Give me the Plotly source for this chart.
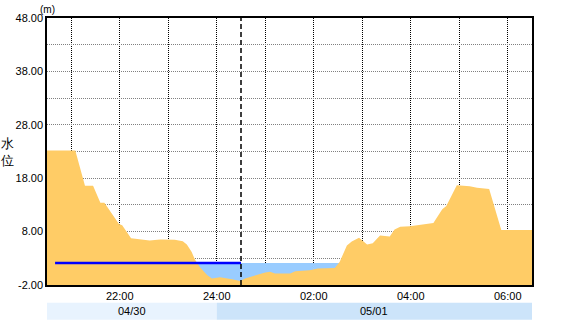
import plotly.graph_objects as go
from datetime import datetime

# ---- data ----
level_times = ["04/30 20:30", "04/30 21:05", "04/30 21:17", "04/30 21:27", "04/30 21:36",
               "04/30 21:41", "04/30 21:59", "04/30 22:03", "04/30 22:14", "04/30 22:37",
               "04/30 22:50", "04/30 23:08", "04/30 23:18", "04/30 23:23", "04/30 23:29",
               "04/30 23:33", "04/30 23:39", "04/30 23:48", "04/30 23:54", "05/01 00:04",
               "05/01 00:19", "05/01 00:29", "05/01 00:35", "05/01 00:53", "05/01 01:00",
               "05/01 01:06", "05/01 01:12", "05/01 01:31", "05/01 01:37", "05/01 01:55",
               "05/01 02:05", "05/01 02:26", "05/01 02:32", "05/01 02:41", "05/01 02:47",
               "05/01 02:56", "05/01 03:06", "05/01 03:13", "05/01 03:22", "05/01 03:34",
               "05/01 03:40", "05/01 03:47", "05/01 03:59", "05/01 04:28", "05/01 04:39",
               "05/01 04:44", "05/01 04:57", "05/01 05:13", "05/01 05:22", "05/01 05:37",
               "05/01 05:52", "05/01 06:30"]
level_values = [23.2, 23.2, 16.6, 16.6, 13.4,
                13.4, 9.4, 9.2, 6.76, 6.33,
                6.52, 6.46, 6.2, 5.6, 4.17,
                2.76, 1.39, -0.15, -0.76, -0.57,
                -0.94, -1.26, -0.76, 0.04, 0.35,
                0.46, 0.17, 0.17, 0.59, 0.78,
                1.09, 1.2, 2.31, 5.4, 6.15,
                6.83, 5.59, 5.83, 7.26, 7.07,
                8.37, 8.93, 8.98, 9.61, 12.2,
                12.8, 16.7, 16.5, 16.2, 16.0,
                8.31, 8.31]

ref_times = ["04/30 20:40", "05/01 00:30"]
ref_values = [2.1, 2.1]
band_times = ["04/30 20:30", "05/01 06:30"]
band_values = [2.1, 2.1]

now_time = "05/01 00:30"
x_range = ["04/30 20:30", "05/01 06:30"]
y_min, y_max = -2.0, 48.0
y_grid = [-2, 3, 8, 13, 18, 23, 28, 33, 38, 43, 48]
y_labels = ["-2.00", "", "8.00", "", "18.00", "", "28.00", "", "38.00", "", "48.00"]
x_ticks = ["04/30 21:00", "04/30 22:00", "04/30 23:00", "05/01 00:00", "05/01 01:00",
           "05/01 02:00", "05/01 03:00", "05/01 04:00", "05/01 05:00", "05/01 06:00"]
x_labels = ["", "22:00", "", "24:00", "", "02:00", "", "04:00", "", "06:00"]
days = ["04/30", "05/01"]
day_starts = ["04/30 20:30", "05/01 00:00"]
day_ends = ["05/01 00:00", "05/01 06:30"]
y_title = "水<br>位"
unit = "(m)"


def ts(s):
    return datetime.strptime("2024/" + s, "%Y/%m/%d %H:%M")


FONT = "Liberation Sans, Arial, sans-serif"
ORANGE = "#FFCC66"
LBLUE = "#99CCFF"

fig = go.Figure()

# light-blue band (behind)
bx = [ts(t) for t in band_times]
fig.add_trace(go.Scatter(x=bx, y=[y_min] * len(bx), mode="lines",
                         line=dict(width=0), showlegend=False, hoverinfo="skip"))
fig.add_trace(go.Scatter(x=bx, y=band_values, mode="lines", fill="tonexty",
                         fillcolor=LBLUE, line=dict(width=0), showlegend=False))

# water level area
lx = [ts(t) for t in level_times]
fig.add_trace(go.Scatter(x=lx, y=[y_min] * len(lx), mode="lines",
                         line=dict(width=0), showlegend=False, hoverinfo="skip"))
fig.add_trace(go.Scatter(x=lx, y=level_values, mode="lines", fill="tonexty",
                         fillcolor=ORANGE, line=dict(width=0, color=ORANGE), showlegend=False))

# reference line
fig.add_trace(go.Scatter(x=[ts(t) for t in ref_times], y=ref_values, mode="lines",
                         line=dict(color="#0000FF", width=2.5), showlegend=False))

# now line
fig.add_shape(type="line", x0=ts(now_time), x1=ts(now_time), y0=0, y1=1,
              xref="x", yref="paper", line=dict(color="black", width=1.5, dash="5px,3px"))

# day bands
band_colors = ["#E8F3FE", "#CCE4FA"]
for d, s, e, c in zip(days, day_starts, day_ends, band_colors):
    fig.add_shape(type="rect", x0=ts(s), x1=ts(e), y0=-0.0667, y1=-0.13,
                  xref="x", yref="paper", fillcolor=c, line=dict(width=0), layer="below")
    mid = ts(s) + (ts(e) - ts(s)) / 2
    fig.add_annotation(x=mid, y=-0.098, xref="x", yref="paper", text=d, showarrow=False,
                       xanchor="center", yanchor="middle",
                       font=dict(family=FONT, size=11, color="black"))

fig.add_annotation(x=-0.081, y=0.50, xref="paper", yref="paper", text=y_title,
                   showarrow=False, xanchor="center", yanchor="middle",
                   font=dict(family=FONT, size=13, color="black"))
fig.add_annotation(x=0.0, y=1.0, xref="paper", yref="paper", text=unit, showarrow=False,
                   xanchor="center", yanchor="bottom", yshift=1,
                   font=dict(family=FONT, size=10, color="black"))

fig.update_layout(
    width=580, height=320,
    margin=dict(l=47, r=48, t=15, b=35),
    paper_bgcolor="white", plot_bgcolor="white",
    font=dict(family=FONT, size=11, color="black"),
    xaxis=dict(range=[ts(x_range[0]), ts(x_range[1])], tickvals=[ts(t) for t in x_ticks],
               ticktext=x_labels, showgrid=True, gridcolor="black", griddash="1px,1px",
               gridwidth=1, showline=True, linecolor="black", linewidth=1.5, mirror=True,
               ticks="", zeroline=False, tickfont=dict(size=11)),
    yaxis=dict(range=[y_min, y_max], tickvals=y_grid, ticktext=y_labels, showgrid=True,
               gridcolor="#808080", griddash="1px,1px", gridwidth=1, showline=True,
               linecolor="black", linewidth=1.5, mirror=True, ticks="", zeroline=False,
               tickfont=dict(size=11)),
)

fig.write_html("out.html")
